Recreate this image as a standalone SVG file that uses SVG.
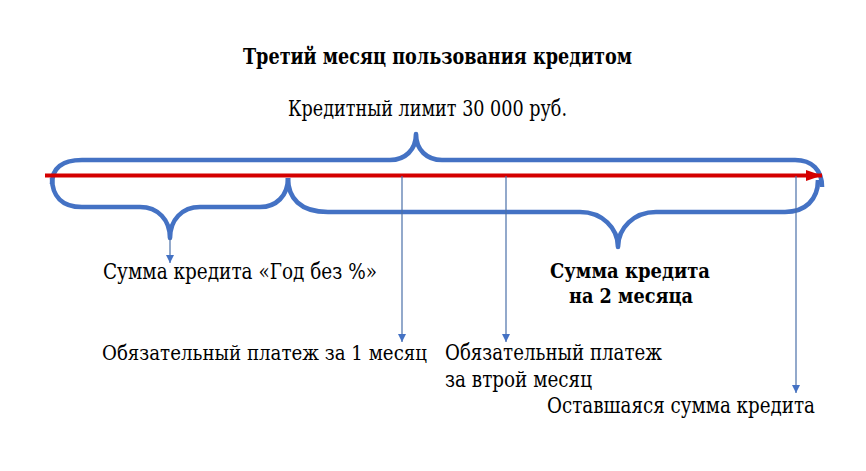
<svg xmlns="http://www.w3.org/2000/svg" width="866" height="471" viewBox="0 0 866 471">
<defs>
<style>
text{font-family:'DejaVu Serif','Liberation Serif',serif;font-size:21.5px;fill:#000}
.b{font-weight:bold;font-size:21px}
.h{font-size:22.5px}
.s{font-size:20px}
.brace{fill:none;stroke:#4472C4;stroke-width:4.6;stroke-linecap:butt;stroke-linejoin:round}
.thin{fill:none;stroke:#4A70A8;stroke-width:1.2}
</style>
<marker id="ah" viewBox="0 0 10 10" refX="10" refY="5" markerWidth="8" markerHeight="8" markerUnits="userSpaceOnUse" orient="auto">
<path d="M0,0 L10,5 L0,10 Z" fill="#4472C4"/>
</marker>
<marker id="ahr" viewBox="0 0 10 10" refX="10" refY="5" markerWidth="16" markerHeight="11" markerUnits="userSpaceOnUse" orient="auto" preserveAspectRatio="none">
<path d="M0,0 L10,5 L0,10 Z" fill="#D40000"/>
</marker>
</defs>
<rect width="866" height="471" fill="#fff"/>
<g id="title">
<text class="b h" x="243" y="64" textLength="389" lengthAdjust="spacingAndGlyphs">Третий месяц пользования кредитом</text>
</g>
<g id="limit">
<text x="288" y="116" textLength="279" lengthAdjust="spacingAndGlyphs">Кредитный лимит 30 000 руб.</text>
</g>
<g id="braces">
<path class="brace" d="M52,184 C52,168 62,160 82,160 L390,160 C405,160 416,150 416,134 C416,150 427,160 442,160 L795,160 C812,160 822,170 822,187"/>
<path class="brace" d="M52,178 C52,196 62,207 82,207 L140,207 C158,207 170,220 170,238 C170,220 182,207 200,207 L260,207 C276,207 288,196 288,178"/>
<path class="brace" d="M288,178 C288,198 300,212 328,212 L580,212 C602,212 618,228 618,247 C618,228 634,212 656,212 L785,212 C805,212 818,200 818,180"/>
</g>
<g id="connectors">
<line x1="45" y1="175.5" x2="822" y2="175.5" stroke="#D40000" stroke-width="4" marker-end="url(#ahr)"/>
<line class="thin" x1="170" y1="238" x2="170" y2="263" marker-end="url(#ah)"/>
<line class="thin" x1="402" y1="176" x2="402" y2="342" marker-end="url(#ah)"/>
<line class="thin" x1="506" y1="176" x2="506" y2="342" marker-end="url(#ah)"/>
<line class="thin" x1="796" y1="176" x2="796" y2="393" marker-end="url(#ah)"/>
</g>
<g id="sum-year">
<text x="103" y="279" textLength="274" lengthAdjust="spacingAndGlyphs">Сумма кредита «Год без %»</text>
</g>
<g id="sum-2m">
<text class="b" x="550" y="278" textLength="160" lengthAdjust="spacingAndGlyphs">Сумма кредита</text>
<text class="b" x="569" y="303" textLength="124" lengthAdjust="spacingAndGlyphs">на 2 месяца</text>
</g>
<g id="pay-1">
<text class="s" x="102" y="360" textLength="325" lengthAdjust="spacingAndGlyphs">Обязательный платеж за 1 месяц</text>
</g>
<g id="pay-2">
<text x="445" y="360" textLength="217" lengthAdjust="spacingAndGlyphs">Обязательный платеж</text>
<text x="445" y="387" textLength="147" lengthAdjust="spacingAndGlyphs">за втрой месяц</text>
</g>
<g id="rest">
<text x="547" y="413" textLength="268" lengthAdjust="spacingAndGlyphs">Оставшаяся сумма кредита</text>
</g>
</svg>
